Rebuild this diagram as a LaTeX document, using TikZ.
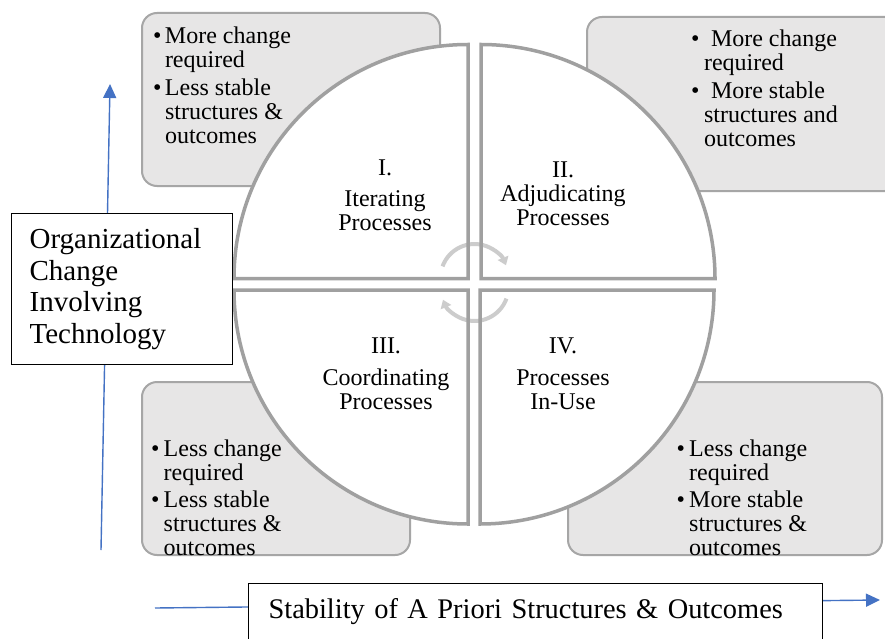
\documentclass[tikz,border=0pt]{standalone}
\usepackage{fontspec}
\setmainfont{Liberation Serif}
\usetikzlibrary{arrows.meta}

\definecolor{quadline}{RGB}{160,160,160}
\definecolor{boxfill}{RGB}{231,230,230}
\definecolor{boxline}{RGB}{166,166,166}
\definecolor{cyclegray}{RGB}{204,204,204}
\definecolor{axisblue}{RGB}{68,114,196}

% bullet in a box of given width, and the matching hanging indent
\newcommand{\bul}[1]{\makebox[#1][l]{\textbullet}}
\newcommand{\hang}[1]{\hspace*{#1}}

\begin{document}
\begin{tikzpicture}[x=1pt, y=-1pt,
  cornerbox/.style={draw=boxline, line width=2pt, fill=boxfill, rounded corners=15pt},
  quadrant/.style={draw=quadline, line width=3.5pt, line join=miter},
  bullets/.style={anchor=north west, inner sep=0pt, align=left, font=\fontsize{24}{24}\selectfont},
  qlabel/.style={anchor=north, inner sep=0pt, align=center, font=\fontsize{24}{24}\selectfont},
  axisbox/.style={draw=black, line width=1.2pt, fill=white, align=left, font=\fontsize{29}{31.7}\selectfont},
  axis/.style={draw=axisblue, line width=1.4pt, -{Triangle[length=14pt,width=13pt]}},
  cyclearrow/.style={draw=cyclegray, line width=4pt, -{Triangle[length=8pt,width=11pt]}}]

\useasboundingbox[fill=white] (0,0) rectangle (885,639);

% Corner boxes behind the circle
\draw[cornerbox] (142,13) rectangle (440,186);
\draw[cornerbox] (587,17) rectangle (900,191);
\draw[cornerbox] (142,382) rectangle (410,555);
\draw[cornerbox] (568,382) rectangle (882,555);

% Quadrants: white faces first
\foreach \qx/\qy/\sa/\ea in {468/278.5/270/180, 481/278.5/270/360, 468/290/90/180, 480/290/90/0}
  \fill[white] (\qx,\qy) -- ++(\sa:234) arc[start angle=\sa, end angle=\ea, radius=234] -- cycle;

% Cycle arrows in the middle
\coordinate (hubtop) at (474.5,278);
\coordinate (hubbot) at (474.5,287);
\draw[cyclearrow] (hubtop) ++(200:34) arc[start angle=200, end angle=338, radius=34];
\draw[cyclearrow] (hubbot) ++(20:34) arc[start angle=20, end angle=158, radius=34];

% Quadrant outlines
\foreach \qx/\qy/\sa/\ea in {468/278.5/270/180, 481/278.5/270/360, 468/290/90/180, 480/290/90/0}
  \draw[quadrant] (\qx,\qy) -- ++(\sa:234) arc[start angle=\sa, end angle=\ea, radius=234] -- cycle;

% Quadrant labels
\node[qlabel] (iter)  at (385,160) {I.\\[7pt]Iterating\\Processes};
\node[qlabel] (adju)  at (563,162) {II.\\Adjudicating\\Processes};
\node[qlabel] (coord) at (386,338) {III.\\[8pt]Coordinating\\Processes};
\node[qlabel] (inuse) at (563,338) {IV.\\[8pt]Processes\\In-Use};

% Corner box texts
\node[bullets] (chgI) at (152.8,26.6)
  {\bul{12pt}More change\\ \hang{12pt}required\\[4pt]
   \bul{12pt}Less stable\\ \hang{12pt}structures \&\\ \hang{12pt}outcomes};
\node[bullets] (chgII) at (690.8,29.6)
  {\bul{20pt}More change\\ \hang{13pt}required\\[4pt]
   \bul{20pt}More stable\\ \hang{13pt}structures and\\ \hang{13pt}outcomes};
\node[bullets] (chgIII) at (150.8,439.6)
  {\bul{12.7pt}Less change\\ \hang{12.7pt}required\\[3pt]
   \bul{12.7pt}Less stable\\ \hang{12.7pt}structures \&\\ \hang{12.7pt}outcomes};
\node[bullets] (chgIV) at (676.3,439.6)
  {\bul{12.7pt}Less change\\ \hang{12.7pt}required\\[3pt]
   \bul{12.7pt}More stable\\ \hang{12.7pt}structures \&\\ \hang{12.7pt}outcomes};

% Axes
\coordinate (ybase) at (101,550);
\coordinate (ytip) at (110,84);
\coordinate (xbase) at (155,608);
\coordinate (xtip) at (880,600);
\draw[axis] (ybase) -- (ytip);
\draw[axis] (xbase) -- (xtip);

\node[axisbox, anchor=north west, text width=185pt, inner xsep=18pt, minimum height=151pt]
  (orgchange) at (11,213) {Organizational\\Change\\Involving\\Technology};
\node[axisbox, anchor=north west, text width=534pt, inner xsep=20pt, inner ysep=15pt,
  text height=20pt, text depth=40pt, font=\fontsize{28.4}{31}\selectfont]
  (stability) at (248,583) {Stability of A Priori Structures \& Outcomes};
\end{tikzpicture}
\end{document}
